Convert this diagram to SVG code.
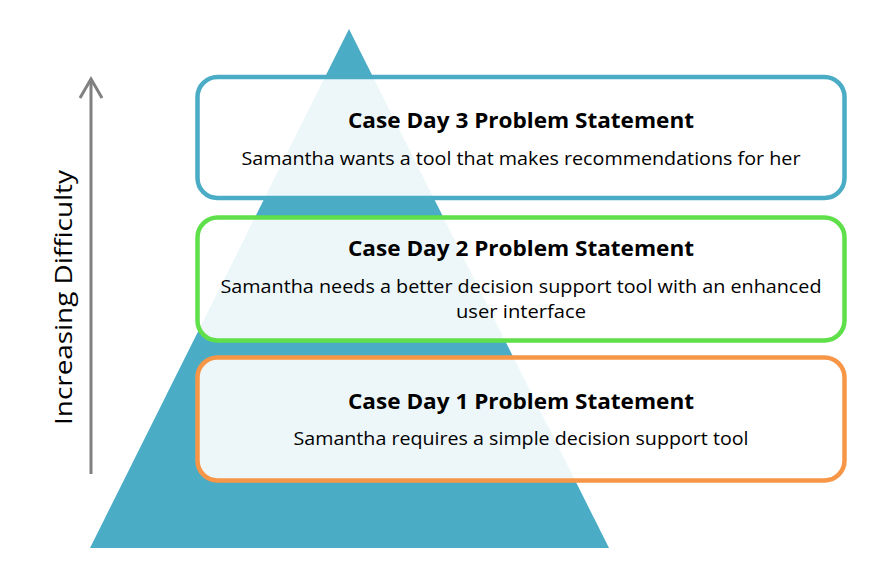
<svg xmlns="http://www.w3.org/2000/svg" width="886" height="564" viewBox="0 0 886 564">
<style>
.box{fill:#ffffff;fill-opacity:0.9;stroke-width:4.5}
.title{font-family:"Open Sans","Liberation Sans",sans-serif;font-weight:bold;font-size:22px;fill:#000;text-anchor:middle}
.sub{font-family:"Open Sans","Liberation Sans",sans-serif;font-size:19px;fill:#000;text-anchor:middle}
.axis{font-family:"Open Sans","Liberation Sans",sans-serif;font-size:24px;fill:#000}
</style>
<rect width="886" height="564" fill="#ffffff"/>
<g id="pyramid">
<polygon points="349,29 90,548 609,548" fill="#4BACC6"/>
</g>
<g id="connectors">
<line x1="91" y1="474" x2="91" y2="79" stroke="#808080" stroke-width="3"/>
<polyline points="80,98 91,79 102,98" fill="none" stroke="#808080" stroke-width="3" stroke-linejoin="miter"/>
</g>
<g id="axis-label">
<text class="axis" transform="translate(72,425) rotate(-90)" textLength="255" lengthAdjust="spacingAndGlyphs">Increasing Difficulty</text>
</g>
<g id="day3">
<rect class="box" x="197.5" y="77" width="647" height="121" rx="20" stroke="#4BACC6"/>
<text class="title" x="521" y="128" textLength="346" lengthAdjust="spacingAndGlyphs">Case Day 3 Problem Statement</text>
<text class="sub" x="521" y="165" textLength="559" lengthAdjust="spacingAndGlyphs">Samantha wants a tool that makes recommendations for her</text>
</g>
<g id="day2">
<rect class="box" x="197.5" y="217.5" width="647" height="123" rx="20" stroke="#5FE04B"/>
<text class="title" x="521" y="256" textLength="346" lengthAdjust="spacingAndGlyphs">Case Day 2 Problem Statement</text>
<text class="sub" x="521" y="293" textLength="601" lengthAdjust="spacingAndGlyphs">Samantha needs a better decision support tool with an enhanced</text>
<text class="sub" x="521" y="318" textLength="130" lengthAdjust="spacingAndGlyphs">user interface</text>
</g>
<g id="day1">
<rect class="box" x="197.5" y="357.5" width="647" height="123" rx="20" stroke="#F79646"/>
<text class="title" x="521" y="409" textLength="346" lengthAdjust="spacingAndGlyphs">Case Day 1 Problem Statement</text>
<text class="sub" x="521" y="445" textLength="455" lengthAdjust="spacingAndGlyphs">Samantha requires a simple decision support tool</text>
</g>
</svg>
